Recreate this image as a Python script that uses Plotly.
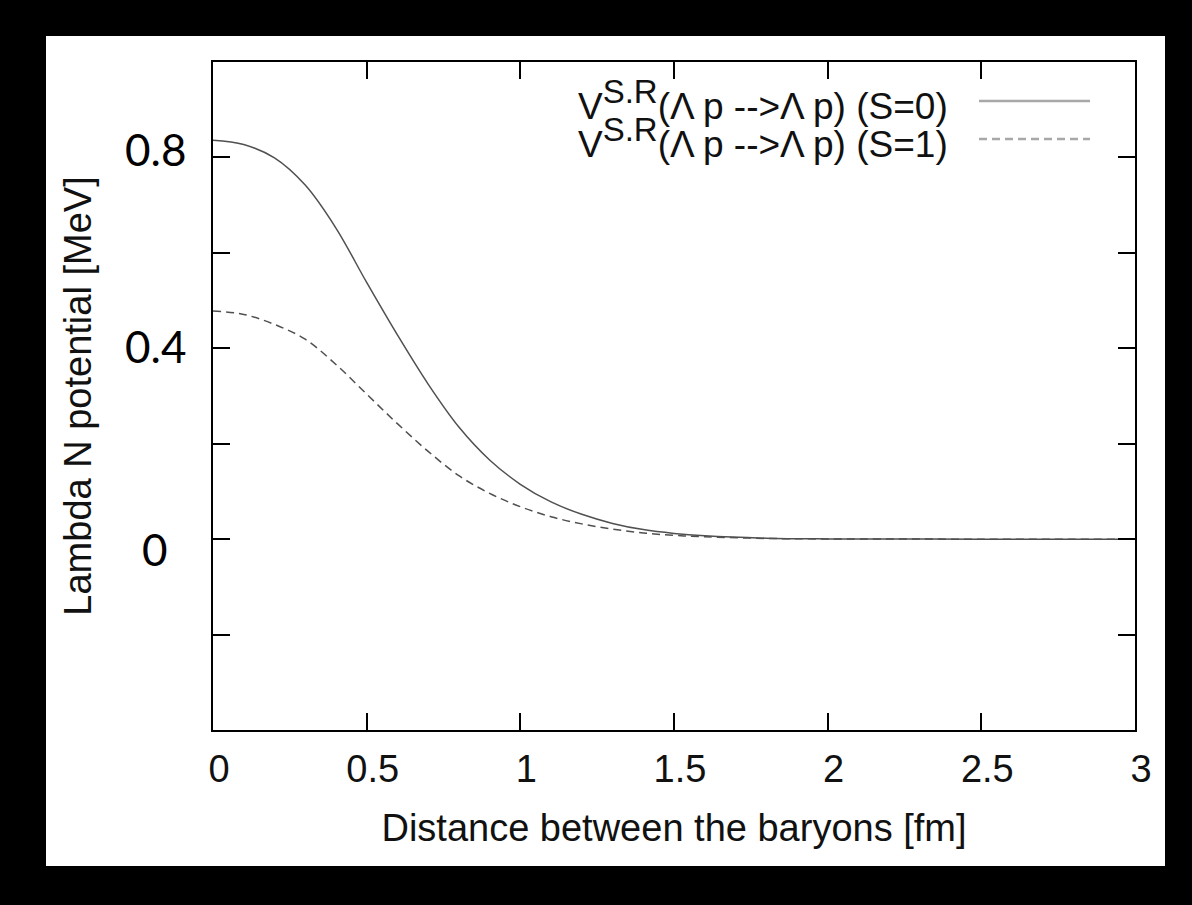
import plotly.graph_objects as go

# ---- data ----
r_fm = [0.0, 0.1, 0.2, 0.3, 0.4, 0.5, 0.6, 0.7, 0.8, 0.9, 1.0, 1.1, 1.2, 1.3,
        1.4, 1.5, 1.6, 1.8, 2.0, 2.5, 3.0]
v_s0 = [0.836, 0.827, 0.799, 0.742, 0.652, 0.538, 0.428, 0.325, 0.235, 0.166,
        0.115, 0.078, 0.052, 0.033, 0.020, 0.012, 0.007, 0.002, 0.0005, 0.0, 0.0]
v_s1 = [0.478, 0.471, 0.450, 0.419, 0.366, 0.304, 0.242, 0.184, 0.133, 0.096,
        0.068, 0.047, 0.032, 0.021, 0.013, 0.008, 0.005, 0.0015, 0.0004, 0.0, 0.0]

series_names = ["V<sup><span style='font-size:33px'>S.R</span></sup>(\u039b p -->\u039b p) (S=0)",
                "V<sup><span style='font-size:33px'>S.R</span></sup>(\u039b p -->\u039b p) (S=1)"]

x_tick_vals = [0, 0.5, 1, 1.5, 2, 2.5, 3]
x_tick_text = ["0", "0.5", "1", "1.5", "2", "2.5", "3"]
y_tick_vals = [-0.4, -0.2, 0, 0.2, 0.4, 0.6, 0.8, 1.0]
y_label_vals = [0.8, 0.4, 0]
y_label_text = ["0.8", "0.4", "0"]

x_title = "Distance between the baryons [fm]"
y_title = "Lambda N potential [MeV]"

# ---- styling ----
GN_FONT = "Liberation Sans, Arial, sans-serif"
GN_SIZE = 38
CURVE_COLOR = "#505050"
LEG_COLOR = "#a8a8a8"
y_label_shift = [8, 2, -10]

fig = go.Figure()
fig.add_trace(go.Scatter(x=r_fm, y=v_s0, mode="lines", name="S=0",
                         line=dict(color=CURVE_COLOR, width=1.5, shape="spline"),
                         showlegend=False))
fig.add_trace(go.Scatter(x=r_fm, y=v_s1, mode="lines", name="S=1",
                         line=dict(color=CURVE_COLOR, width=1.5, shape="spline",
                                   dash="8px,5px"),
                         showlegend=False))

L, R, T, B = 213, 57, 62, 175
W, H = 1192, 905
pw, ph = W - L - R, H - T - B


def px_x(px):
    return (px - L) / pw


def px_y(py):
    return (H - B - py) / ph


shapes = [
    # white page on black background
    dict(type="rect", xref="paper", yref="paper", layer="below",
         x0=px_x(46), x1=px_x(1165), y0=px_y(866), y1=px_y(36),
         fillcolor="white", line=dict(width=0)),
    # legend samples
    dict(type="line", xref="paper", yref="paper",
         x0=px_x(979), x1=px_x(1090), y0=px_y(101), y1=px_y(101),
         line=dict(color=LEG_COLOR, width=2.5)),
    dict(type="line", xref="paper", yref="paper",
         x0=px_x(979), x1=px_x(1090), y0=px_y(139), y1=px_y(139),
         line=dict(color=LEG_COLOR, width=2.5, dash="8px,5px")),
]

annotations = []
for name, py in zip(series_names, [100, 138]):
    annotations.append(dict(text=name, xref="paper", yref="paper",
                            x=px_x(950), y=px_y(py), xanchor="right",
                            yanchor="middle", showarrow=False,
                            font=dict(family=GN_FONT, size=37, color="#111")))
for v, t, s in zip(y_label_vals, y_label_text, y_label_shift):
    annotations.append(dict(text=t, xref="paper", yref="y", x=0, y=v,
                            xshift=-58, yshift=s, xanchor="center",
                            yanchor="middle", showarrow=False,
                            font=dict(family="Lato, sans-serif", size=44,
                                      color="black")))

fig.update_layout(
    width=W, height=H,
    margin=dict(l=L, r=R, t=T, b=B, autoexpand=False),
    paper_bgcolor="black", plot_bgcolor="white",
    shapes=shapes, annotations=annotations, showlegend=False,
    xaxis=dict(range=[0, 3], tickvals=x_tick_vals, ticktext=x_tick_text,
               ticks="inside", ticklen=17, tickwidth=2, tickcolor="black",
               showline=True, linecolor="black", linewidth=2, mirror="ticks",
               showgrid=False, zeroline=False,
               ticklabelshift=6, ticklabelstandoff=4,
               tickfont=dict(family=GN_FONT, size=GN_SIZE, color="#111"),
               title=dict(text=x_title, standoff=26,
                          font=dict(family=GN_FONT, size=GN_SIZE, color="#111"))),
    yaxis=dict(range=[-0.4, 1.0], tickvals=y_tick_vals, showticklabels=False,
               ticks="inside", ticklen=17, tickwidth=2, tickcolor="black",
               showline=True, linecolor="black", linewidth=2, mirror="ticks",
               showgrid=False, zeroline=False,
               title=dict(text=y_title, standoff=108,
                          font=dict(family=GN_FONT, size=GN_SIZE, color="#111"))),
)

fig.write_html("out.html",
               config={"displayModeBar": False},
               post_script="document.body.style.margin='0';"
                           "document.body.style.overflow='hidden';")
